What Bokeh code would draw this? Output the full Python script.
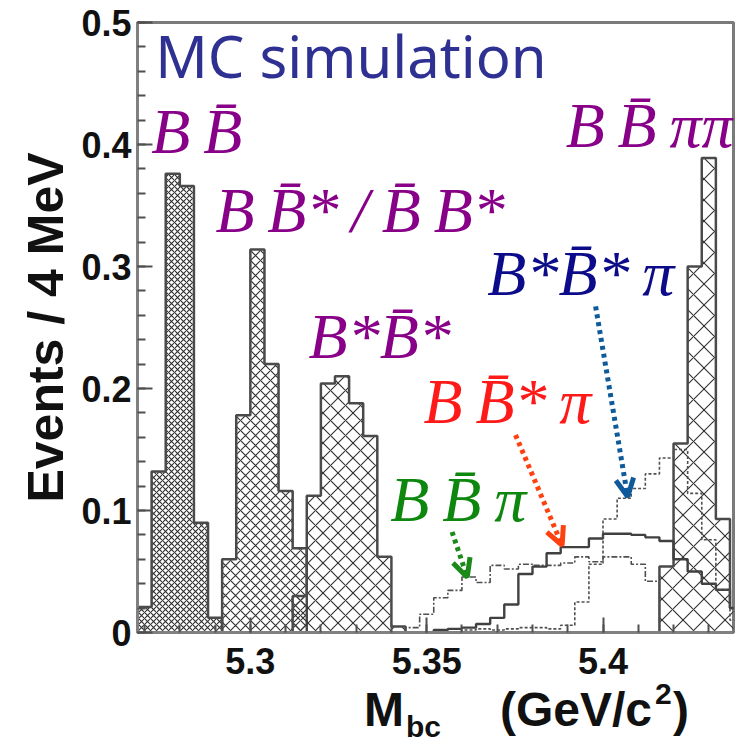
from bokeh.plotting import figure
from bokeh.models import Range1d, FixedTicker, NumeralTickFormatter, Label, Arrow, OpenHead, Div
from bokeh.layouts import column
from bokeh.embed import file_html
from bokeh.resources import INLINE

# ---------------- data (Events / 4 MeV) ----------------
BIN_WIDTH = 0.004  # GeV

bb_start = 5.268
bb_vals = [0.021, 0.132, 0.376, 0.366, 0.090, 0.012]

bbst_start = 5.292
bbst_vals = [0.060, 0.178, 0.314, 0.220, 0.116, 0.069]

bsbs_start = 5.312
bsbs_vals = [0.030, 0.112, 0.204, 0.210, 0.188, 0.161, 0.062, 0.005]

bbpi_start = 5.344
bbpi_vals = [0.004, 0.015, 0.0285, 0.0345, 0.0455, 0.041, 0.055, 0.052, 0.056,
             0.055, 0.055, 0.057, 0.062, 0.058, 0.062, 0.062, 0.056, 0.042]

bbstpi_start = 5.352
bbstpi_vals = [0.002, 0.003, 0.004, 0.007, 0.012, 0.023, 0.048, 0.054, 0.065, 0.070,
               0.070, 0.077, 0.081, 0.081, 0.080, 0.078, 0.075, 0.060, 0.050, 0.040,
               0.035, 0.020]

bsbspi_start = 5.360
bsbspi_vals = [0.002, 0.003, 0.002, 0.003, 0.004, 0.004, 0.003, 0.006, 0.025, 0.056,
               0.093, 0.110, 0.118, 0.130, 0.143, 0.150, 0.114, 0.076, 0.035, 0.010]

bbpipi_start = 5.416
bbpipi_vals = [0.054, 0.155, 0.300, 0.389, 0.093, 0.020]

x_major = [5.30, 5.35, 5.40]
y_major = [0.0, 0.1, 0.2, 0.3, 0.4, 0.5]


def step_xy(start, vals):
    edges = [start + i * BIN_WIDTH for i in range(len(vals) + 1)]
    xs, ys = [edges[0]], [0.0]
    for i, v in enumerate(vals):
        xs += [edges[i], edges[i + 1]]
        ys += [v, v]
    xs.append(edges[-1])
    ys.append(0.0)
    return xs, ys


p = figure(width=736, height=692, x_range=Range1d(5.268, 5.437), y_range=Range1d(0, 0.5),
           output_backend="svg", toolbar_location=None,
           min_border_left=137, min_border_right=3, min_border_top=22, min_border_bottom=60)
p.grid.visible = False
p.background_fill_color = "white"
p.border_fill_color = "white"
p.outline_line_color = "#7a7a7a"
p.outline_line_width = 3

# hatched histograms
for start, vals, scale in [(bb_start, bb_vals, 6), (bbst_start, bbst_vals, 10),
                           (bsbs_start, bsbs_vals, 15), (bbpipi_start, bbpipi_vals, 21)]:
    xs, ys = step_xy(start, vals)
    p.patch(xs, ys, fill_color=None, hatch_pattern="x", hatch_scale=scale,
            hatch_color="#303030", hatch_weight=1.1, line_color="#4a4a4a", line_width=2.5)

# outline histograms
xs, ys = step_xy(bbpi_start, bbpi_vals)
p.line(xs, ys, line_color="#505050", line_width=1.6, line_dash="6 2 2 2")
xs, ys = step_xy(bbstpi_start, bbstpi_vals)
p.line(xs, ys, line_color="#404040", line_width=2.4)
xs, ys = step_xy(bsbspi_start, bsbspi_vals)
p.line(xs, ys, line_color="#505050", line_width=1.6, line_dash="3 2")

# axes
for ax in (p.xaxis[0], p.yaxis[0]):
    ax.axis_line_color = "#808080"
    ax.axis_line_width = 3
    ax.major_tick_in = 15
    ax.major_tick_out = 0
    ax.minor_tick_in = 8
    ax.minor_tick_out = 0
    ax.major_tick_line_color = "#505050"
    ax.minor_tick_line_color = "#505050"
    ax.major_tick_line_width = 2
    ax.minor_tick_line_width = 2
    ax.major_label_text_font = "Liberation Sans"
    ax.major_label_text_font_style = "bold"
    ax.major_label_text_font_size = "36px"
    ax.major_label_text_color = "#111111"

p.xaxis.ticker = FixedTicker(ticks=x_major,
                             minor_ticks=[round(5.27 + 0.01 * i, 2) for i in range(17)])
p.xaxis.formatter = NumeralTickFormatter(format="0.0[0]")
p.xaxis.major_label_standoff = 15

p.yaxis.ticker = FixedTicker(ticks=y_major,
                             minor_ticks=[round(0.02 * i, 2) for i in range(26)])
p.yaxis.formatter = NumeralTickFormatter(format="0.[0]")
p.yaxis.major_label_standoff = 6
p.yaxis.axis_label = "Events / 4 MeV"
p.yaxis.axis_label_text_font = "Liberation Sans"
p.yaxis.axis_label_text_font_style = "bold"
p.yaxis.axis_label_text_font_size = "50px"
p.yaxis.axis_label_text_color = "#111111"
p.yaxis.axis_label_standoff = 4


def lab(x, y, text, size, color="#111111", font="Liberation Sans", style="bold"):
    p.add_layout(Label(x=x, y=y, text=text, text_font=font, text_font_style=style,
                       text_font_size=size, text_color=color, text_baseline="alphabetic"))


# title-like text
lab(5.2730, 0.473, "MC simulation", "58px", color="#2E3192", font="Noto Sans", style="normal")

# component labels
purple = "#880088"
math_font = "Liberation Serif"
lab(5.2719, 0.411, "B\u2009B\u0304", "64px", purple, math_font, "italic")
lab(5.2901, 0.346, "B\u2009B\u0304*\u2009/\u2009B\u0304\u2009B*", "64px", purple, math_font, "italic")
lab(5.3165, 0.2424, "B*B\u0304*", "64px", purple, math_font, "italic")
lab(5.3894, 0.4158, "B\u2009B\u0304\u2009\u03c0\u03c0", "64px", purple, math_font, "italic")
lab(5.3672, 0.2942, "B*B\u0304*\u2009\u03c0", "64px", "#0c0c8a", math_font, "italic")
lab(5.3491, 0.1890, "B\u2009B\u0304*\u2009\u03c0", "64px", "#ff1a1a", math_font, "italic")
lab(5.3397, 0.1093, "B\u2009B\u0304\u2009\u03c0", "64px", "#0e870e", math_font, "italic")

# dotted arrows
for (x0, y0, x1, y1, col) in [(5.3572, 0.0824, 5.3615, 0.0454, "#1b8a1b"),
                              (5.3752, 0.1619, 5.3884, 0.0715, "#ff4010"),
                              (5.3979, 0.2673, 5.4070, 0.1112, "#0e5a9a")]:
    p.add_layout(Arrow(x_start=x0, y_start=y0, x_end=x1, y_end=y1,
                       line_color=col, line_width=5, line_dash="4 4",
                       end=OpenHead(size=18, line_color=col, line_width=5)))

# x-axis title with subscript / superscript (HTML text below the plot)
span = ("position:absolute;line-height:1;font-family:'Liberation Sans';"
        "font-weight:bold;color:#111111;white-space:nowrap;")
xtitle_html = (
    '<div style="position:relative;width:736px;height:56px;">'
    f'<span style="{span}left:359px;top:-11px;font-size:48px;">M</span>'
    f'<span style="{span}left:401px;top:15px;font-size:30px;">bc</span>'
    f'<span style="{span}left:495px;top:-11px;font-size:48px;">(GeV/c</span>'
    f'<span style="{span}left:650px;top:-18px;font-size:30px;">2</span>'
    f'<span style="{span}left:668px;top:-11px;font-size:48px;">)</span>'
    '</div>'
)
xtitle = Div(text=xtitle_html, width=736, height=56, styles={"overflow": "visible"})

layout = column(p, xtitle, spacing=0)
open("out.html", "w").write(file_html(layout, INLINE))
